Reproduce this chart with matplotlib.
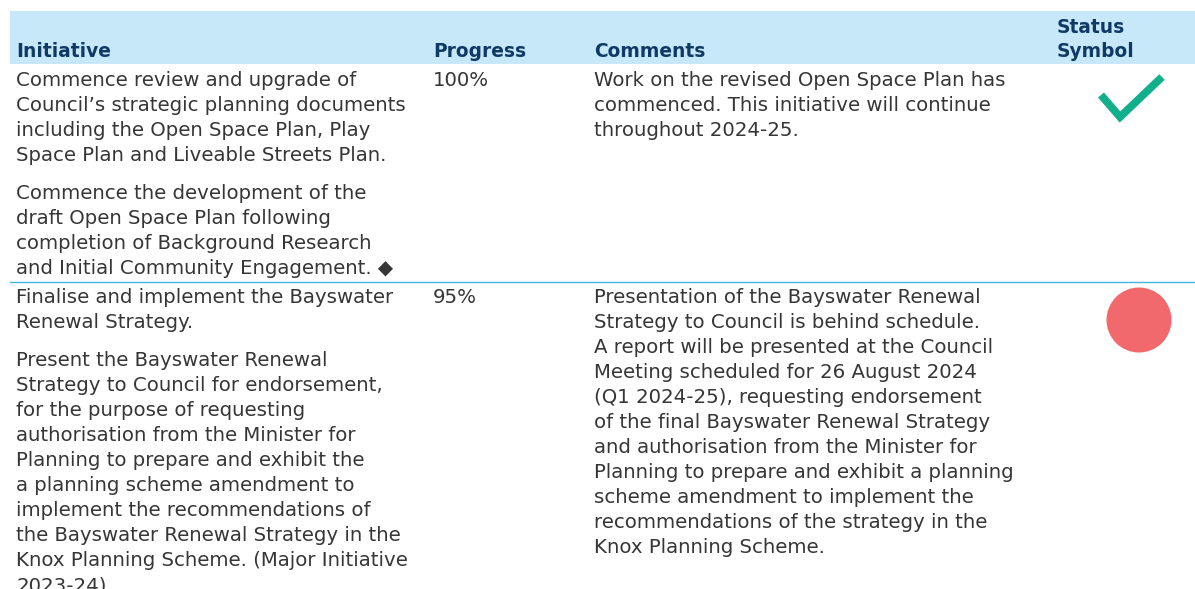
import matplotlib.pyplot as plt
from matplotlib.patches import Rectangle, Circle

# table content
headers = ["Initiative", "Progress", "Comments", "Status\nSymbol"]
progress = ["100%", "95%"]
initiative_1 = [
    ["Commence review and upgrade of",
     "Council\u2019s strategic planning documents",
     "including the Open Space Plan, Play",
     "Space Plan and Liveable Streets Plan."],
    ["Commence the development of the",
     "draft Open Space Plan following",
     "completion of Background Research",
     "and Initial Community Engagement. \u25c6"],
]
initiative_2 = [
    ["Finalise and implement the Bayswater",
     "Renewal Strategy."],
    ["Present the Bayswater Renewal",
     "Strategy to Council for endorsement,",
     "for the purpose of requesting",
     "authorisation from the Minister for",
     "Planning to prepare and exhibit the",
     "a planning scheme amendment to",
     "implement the recommendations of",
     "the Bayswater Renewal Strategy in the",
     "Knox Planning Scheme. (Major Initiative",
     "2023-24)."],
]
comments = [
    ["Work on the revised Open Space Plan has",
     "commenced. This initiative will continue",
     "throughout 2024-25."],
    ["Presentation of the Bayswater Renewal",
     "Strategy to Council is behind schedule.",
     "A report will be presented at the Council",
     "Meeting scheduled for 26 August 2024",
     "(Q1 2024-25), requesting endorsement",
     "of the final Bayswater Renewal Strategy",
     "and authorisation from the Minister for",
     "Planning to prepare and exhibit a planning",
     "scheme amendment to implement the",
     "recommendations of the strategy in the",
     "Knox Planning Scheme."],
]
status = ["done", "behind"]

HEAD_BG = "#c6e8f9"
HEAD_FG = "#0f3a66"
BODY_FG = "#363636"
RULE = "#45b6e4"
FONT = ["DejaVu Sans"]
FS_HEAD = 13.4
FS = 14.2
LH = 25.0

fig = plt.figure(figsize=(11.95, 5.89), dpi=100)
ax = fig.add_axes([0, 0, 1, 1])
ax.set_xlim(0, 1195)
ax.set_ylim(589, 0)
ax.axis("off")

col_x = [16, 433, 594, 1057]

# header band
ax.add_patch(Rectangle((10, 11), 1185, 53, color=HEAD_BG, lw=0))
for x, h in zip(col_x, headers):
    ax.text(x, 57, h, color=HEAD_FG, fontsize=FS_HEAD, fontweight="bold",
            family=FONT, va="baseline", ha="left", linespacing=1.32)


def draw_lines(x, y0, lines):
    for i, s in enumerate(lines):
        ax.text(x, y0 + i * LH, s, color=BODY_FG, fontsize=FS, family=FONT,
                va="baseline", ha="left")


# row 1
draw_lines(col_x[0], 86, initiative_1[0])
draw_lines(col_x[0], 199, initiative_1[1])
ax.text(col_x[1], 86, progress[0], color=BODY_FG, fontsize=FS, family=FONT, va="baseline")
draw_lines(col_x[2], 86, comments[0])
ax.plot([1101, 1120, 1162], [95, 117, 77], color="#12b08a", lw=5.6,
        solid_capstyle="butt", solid_joinstyle="miter")

ax.plot([10, 1195], [281.5, 281.5], color=RULE, lw=1.0)

# row 2
draw_lines(col_x[0], 303, initiative_2[0])
draw_lines(col_x[0], 366, initiative_2[1])
ax.text(col_x[1], 303, progress[1], color=BODY_FG, fontsize=FS, family=FONT, va="baseline")
draw_lines(col_x[2], 303, comments[1])
ax.add_patch(Circle((1139, 320), 32.5, color="#f1686d", lw=0))

fig.savefig("out.png", dpi=100)
